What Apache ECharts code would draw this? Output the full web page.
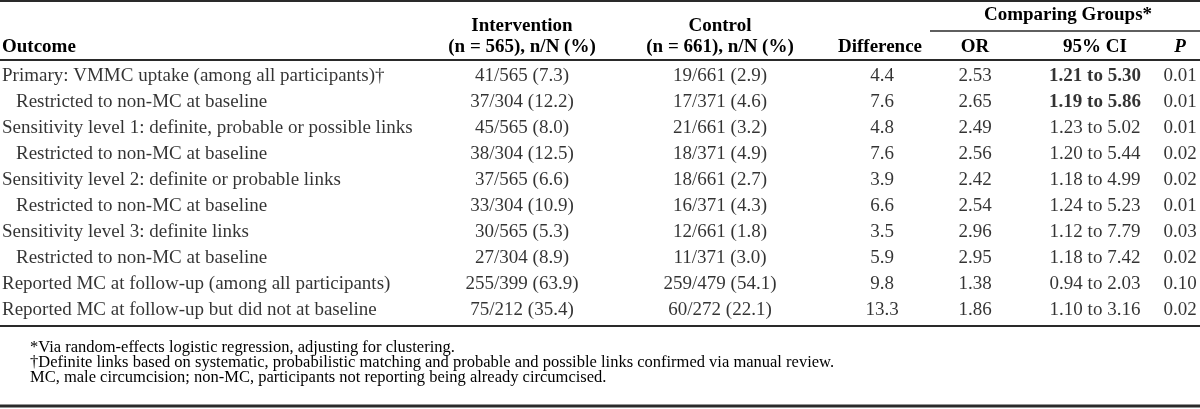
<!DOCTYPE html>
<html>
<head>
<meta charset="utf-8">
<script src="https://cdn.jsdelivr.net/npm/echarts@6/dist/echarts.min.js"></script>
<style>
  html, body { margin: 0; background: #fff; }
  #table { width: 1200px; height: 409px; }
</style>
</head>
<body>
<div id="table"></div>
<script>
// table content
var outcomes = [
  'Primary: VMMC uptake (among all participants)\u2020',
  'Restricted to non-MC at baseline',
  'Sensitivity level 1: definite, probable or possible links',
  'Restricted to non-MC at baseline',
  'Sensitivity level 2: definite or probable links',
  'Restricted to non-MC at baseline',
  'Sensitivity level 3: definite links',
  'Restricted to non-MC at baseline',
  'Reported MC at follow-up (among all participants)',
  'Reported MC at follow-up but did not at baseline'
];
var indented = [false, true, false, true, false, true, false, true, false, false];
var intervention = ['41/565 (7.3)', '37/304 (12.2)', '45/565 (8.0)', '38/304 (12.5)', '37/565 (6.6)',
  '33/304 (10.9)', '30/565 (5.3)', '27/304 (8.9)', '255/399 (63.9)', '75/212 (35.4)'];
var control = ['19/661 (2.9)', '17/371 (4.6)', '21/661 (3.2)', '18/371 (4.9)', '18/661 (2.7)',
  '16/371 (4.3)', '12/661 (1.8)', '11/371 (3.0)', '259/479 (54.1)', '60/272 (22.1)'];
var difference = ['4.4', '7.6', '4.8', '7.6', '3.9', '6.6', '3.5', '5.9', '9.8', '13.3'];
var oddsRatio = ['2.53', '2.65', '2.49', '2.56', '2.42', '2.54', '2.96', '2.95', '1.38', '1.86'];
var ci95 = ['1.21 to 5.30', '1.19 to 5.86', '1.23 to 5.02', '1.20 to 5.44', '1.18 to 4.99',
  '1.24 to 5.23', '1.12 to 7.79', '1.18 to 7.42', '0.94 to 2.03', '1.10 to 3.16'];
var boldCi = [true, true, false, false, false, false, false, false, false, false];
var pValues = ['0.01', '0.01', '0.01', '0.02', '0.02', '0.01', '0.03', '0.02', '0.10', '0.02'];

var footnotes = [
  '*Via random-effects logistic regression, adjusting for clustering.',
  '\u2020Definite links based on systematic, probabilistic matching and probable and possible links confirmed via manual review.',
  'MC, male circumcision; non-MC, participants not reporting being already circumcised.'
];

// layout
var FONT = '"Liberation Serif", "Times New Roman", serif';
var SIZE = 19;
var colX = [2, 522, 720, 882, 975, 1095, 1180];
var indentX = 16;
var ink = '#000';
var rule = '#2a2a2a';

var myChart = echarts.init(document.getElementById('table'));

function cellSeries(values, x, bold, align) {
  return {
    type: 'scatter',
    symbolSize: 0,
    silent: true,
    data: values.map(function (v, i) {
      var px = typeof x === 'function' ? x(i) : x;
      return {
        value: [px, i],
        label: { fontWeight: bold && bold[i] ? 'bold' : 'normal' }
      };
    }),
    label: {
      show: true,
      position: 'inside',
      align: align || 'center',
      verticalAlign: 'middle',
      color: ink,
      fontFamily: FONT,
      fontSize: SIZE,
      formatter: function (p) { return values[p.dataIndex]; }
    }
  };
}

function headText(text, x, y, opts) {
  opts = opts || {};
  return {
    type: 'text', x: x, y: y, silent: true,
    style: {
      text: text, fill: ink, font: (opts.style || '') + ' bold ' + SIZE + 'px ' + FONT,
      textAlign: opts.align || 'center', textVerticalAlign: 'middle'
    }
  };
}

function line(x1, x2, y, w) {
  return { type: 'line', silent: true, shape: { x1: x1, y1: y, x2: x2, y2: y }, style: { stroke: rule, lineWidth: w } };
}

var graphics = [
  line(0, 1200, 1, 2),
  headText('Comparing Groups*', 1068, 15),
  line(930, 1200, 31, 1.5),
  headText('Intervention', colX[1], 26),
  headText('(n = 565), n/N (%)', colX[1], 47),
  headText('Control', colX[2], 26),
  headText('(n = 661), n/N (%)', colX[2], 47),
  headText('Outcome', colX[0], 47, { align: 'left' }),
  headText('Difference', colX[3] - 2, 47),
  headText('OR', colX[4], 47),
  headText('95% CI', colX[5], 47),
  headText('P', colX[6], 47, { style: 'italic' }),
  line(0, 1200, 60, 2),
  line(0, 1200, 326, 2),
  line(0, 1200, 406, 3)
];
var footY = [348, 363, 378];
footnotes.forEach(function (t, i) {
  graphics.push({
    type: 'text', x: 30, y: footY[i], silent: true,
    style: { text: t, fill: ink, font: '16.5px ' + FONT, textVerticalAlign: 'middle' }
  });
});

var option = {
  animation: false,
  grid: { left: 0, right: 0, top: 63, bottom: 86 },
  xAxis: { type: 'value', min: 0, max: 1200, show: false },
  yAxis: { type: 'category', data: outcomes, inverse: true, show: false },
  series: [
    cellSeries(outcomes, function (i) { return indented[i] ? indentX : colX[0]; }, null, 'left'),
    cellSeries(intervention, colX[1]),
    cellSeries(control, colX[2]),
    cellSeries(difference, colX[3]),
    cellSeries(oddsRatio, colX[4]),
    cellSeries(ci95, colX[5], boldCi),
    cellSeries(pValues, colX[6])
  ],
  graphic: graphics
};

myChart.setOption(option);
</script>
</body>
</html>
